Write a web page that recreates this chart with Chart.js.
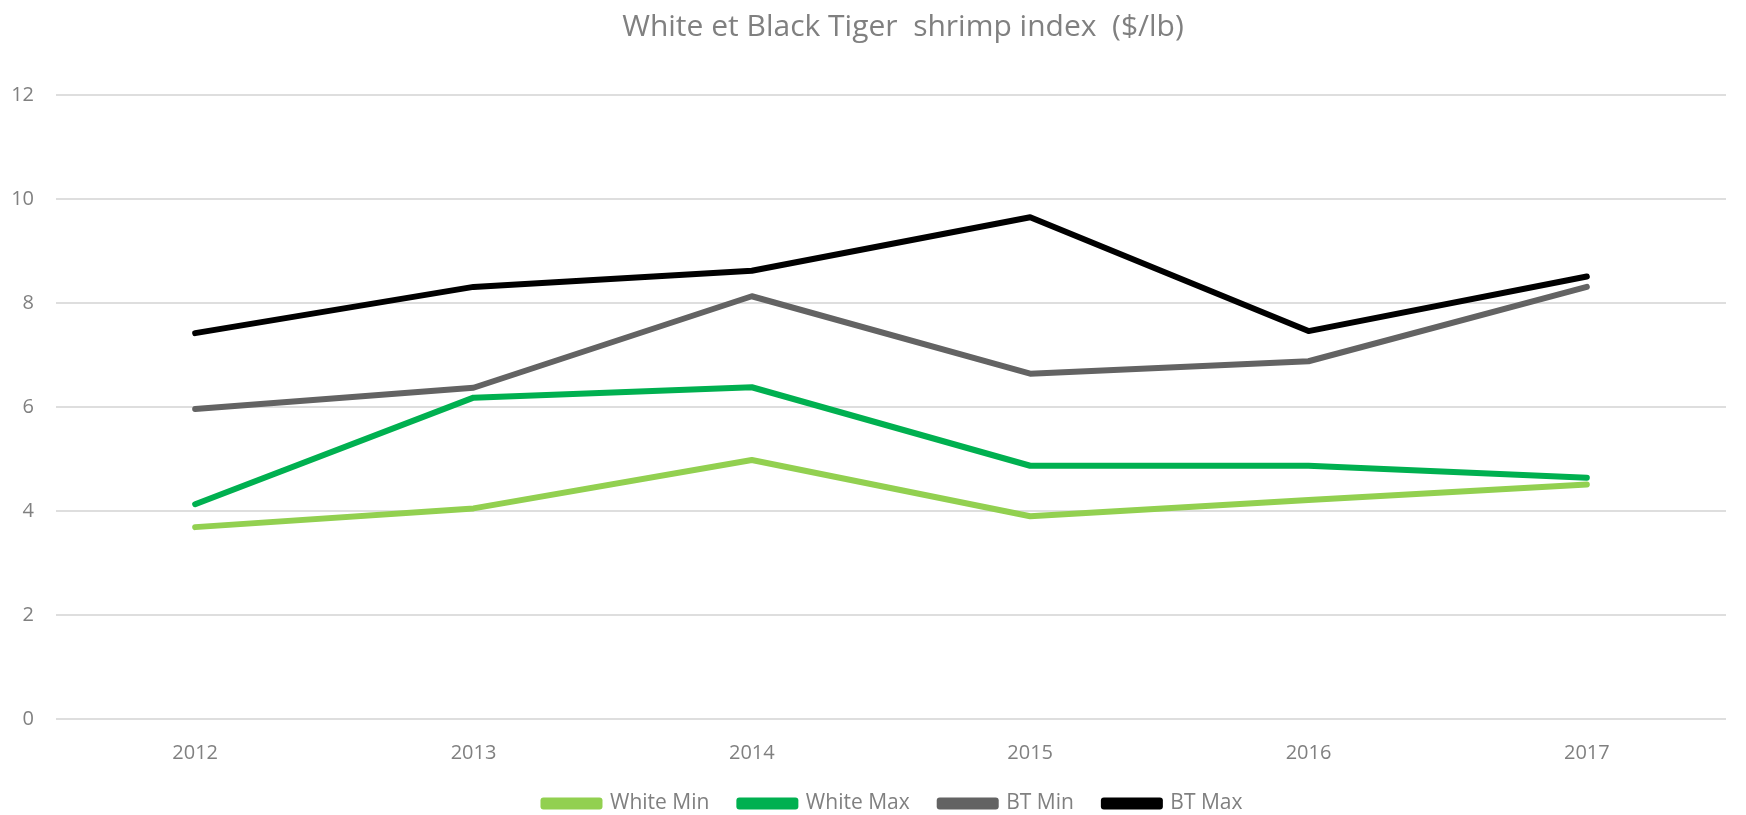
<!DOCTYPE html>
<html>
<head>
<meta charset="utf-8">
<script src="https://cdn.jsdelivr.net/npm/chart.js@4.4.1/dist/chart.umd.min.js"></script>
<style>
  html, body { margin: 0; padding: 0; background: #fff; }
  #wrap { width: 1746px; height: 815px; }
</style>
</head>
<body>
<div id="wrap"><canvas id="myChart"></canvas></div>
<script>
const years = ['2012', '2013', '2014', '2015', '2016', '2017'];
const whiteMin = [3.69, 4.05, 4.98, 3.90, 4.21, 4.51];
const whiteMax = [4.13, 6.18, 6.38, 4.87, 4.87, 4.64];
const btMin = [5.96, 6.37, 8.13, 6.64, 6.88, 8.31];
const btMax = [7.42, 8.31, 8.62, 9.65, 7.46, 8.51];

const chartTitle = 'White et Black Tiger  shrimp index  ($/lb)';
const textGrey = '#808080';

function series(label, values, color) {
    return {
        label: label,
        data: values,
        borderColor: color,
        backgroundColor: color,
        borderWidth: 6,
        borderCapStyle: 'round',
        borderJoinStyle: 'round',
        pointRadius: 0,
        pointHoverRadius: 0,
        tension: 0
    };
}

// title and legend sit a little right of centre
const offsetPlugin = {
    id: 'offsetTitle',
    afterLayout(chart) {
        chart.legend.left += 30;
        chart.legend.right += 30;
    },
    afterDraw(chart) {
        const ctx = chart.ctx;
        ctx.save();
        ctx.font = '30px "Open Sans"';
        ctx.fillStyle = textGrey;
        ctx.textAlign = 'center';
        ctx.textBaseline = 'middle';
        ctx.fillText(chartTitle, 903, 27);
        ctx.restore();
    }
};

const config = {
    type: 'line',
    data: {
        labels: years,
        datasets: [
            series('White Min', whiteMin, '#92d050'),
            series('White Max', whiteMax, '#00b050'),
            series('BT Min', btMin, '#636363'),
            series('BT Max', btMax, '#000000')
        ]
    },
    options: {
        responsive: true,
        maintainAspectRatio: false,
        animation: false,
        layout: { padding: { left: 0, right: 20, top: 95, bottom: 0 } },
        scales: {
            x: {
                offset: true,
                grid: { display: false, drawTicks: false },
                border: { display: false },
                ticks: { color: textGrey, font: { family: 'Open Sans', size: 20 }, padding: 22 },
                afterFit: function(scale) { scale.height = 44; }
            },
            y: {
                min: 0,
                max: 12,
                grid: { color: '#dedede', lineWidth: 2, drawTicks: false },
                border: { display: false },
                ticks: { stepSize: 2, color: textGrey, font: { family: 'Open Sans', size: 20 }, padding: 22 },
                afterFit: function(scale) { scale.width = 56; }
            }
        },
        plugins: {
            title: { display: false },
            legend: {
                position: 'bottom',
                labels: {
                    color: textGrey,
                    font: { family: 'Open Sans', size: 21 },
                    boxWidth: 56,
                    boxHeight: 6,
                    padding: 30
                }
            },
            tooltip: { enabled: false }
        }
    },
    plugins: [offsetPlugin]
};

let myChart = new Chart(document.getElementById('myChart'), config);

// keep the wide gaps between legend items but trim the legend's height
const legend = myChart.legend;
const baseFit = legend.fit.bind(legend);
legend.fit = function() {
    baseFit();
    this.height = 52;
};
myChart.update();
</script>
</body>
</html>
